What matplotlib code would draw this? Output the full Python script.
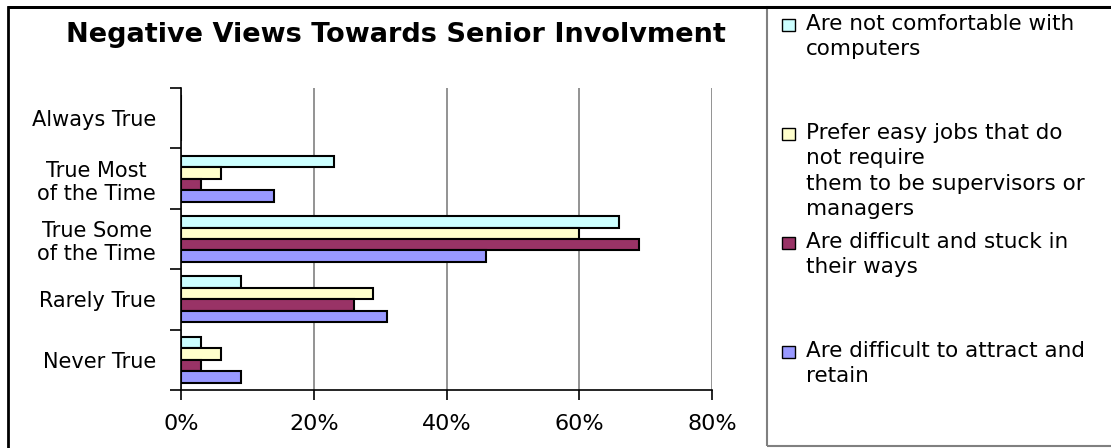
import numpy as np
import matplotlib
matplotlib.use("Agg")
import matplotlib.pyplot as plt
from matplotlib.patches import Rectangle

categories = ["Always True", "True Most\nof the Time", "True Some\nof the Time",
              "Rarely True", "Never True"]
series = [
    "Are not comfortable with\ncomputers",
    "Prefer easy jobs that do\nnot require\nthem to be supervisors or\nmanagers",
    "Are difficult and stuck in\ntheir ways",
    "Are difficult to attract and\nretain",
]
colors = ["#CCFFFF", "#FFFFCC", "#993366", "#9999FF"]
# percent per category (top to bottom), one list per series
not_comfortable = [0, 23, 66, 9, 3]
prefer_easy = [0, 6, 60, 29, 6]
stuck = [0, 3, 69, 26, 3]
hard_to_attract = [0, 14, 46, 31, 9]
values = [not_comfortable, prefer_easy, stuck, hard_to_attract]
xticks = [0, 20, 40, 60, 80]

plt.rcParams["font.family"] = "DejaVu Sans"
W, H = 1111, 448
fig = plt.figure(figsize=(W / 100, H / 100), dpi=100)

# outer frame and legend box
fig.patches.append(Rectangle((8 / W, -0.05), 1.2, (H - 7) / H + 0.05,
                             transform=fig.transFigure, fill=False,
                             edgecolor="black", linewidth=2))
fig.patches.append(Rectangle((767 / W, 1 - 446 / H), 1.0, (446 - 7) / H,
                             transform=fig.transFigure, fill=False,
                             edgecolor="#808080", linewidth=1.5))
fig.patches.append(Rectangle((8 / W, 1 - 7 / H), 1.2, 0.0,
                             transform=fig.transFigure, fill=False,
                             edgecolor="black", linewidth=2))

ax = fig.add_axes([181 / W, 1 - 390 / H, (712 - 181) / W, (390 - 88) / H])

pos = np.arange(len(categories))
h = 0.19
for i, (vals, col) in enumerate(zip(values, colors)):
    ax.barh(pos + (i - 1.5) * h, vals, height=h, color=col,
            edgecolor="black", linewidth=1.5, zorder=3)

ax.set_ylim(len(categories) - 0.5, -0.5)
ax.set_xlim(0, 80)
ax.set_xticks(xticks)
ax.set_xticklabels([f"{t}%" for t in xticks])
ax.set_yticks(pos)
ax.set_yticklabels(categories, multialignment="center")
ax.set_yticks(np.arange(len(categories) + 1) - 0.5, minor=True)
ax.tick_params(axis="y", which="major", length=0, pad=18, labelsize=15)
ax.tick_params(axis="y", which="minor", length=8, width=1.2, direction="out")
ax.tick_params(axis="x", length=7, width=1.2, direction="out", pad=10,
               labelsize=16)
ax.xaxis.grid(True, color="#808080", linewidth=1.2, zorder=0)
for s in ["top", "right"]:
    ax.spines[s].set_visible(False)
for s in ["left", "bottom"]:
    ax.spines[s].set_linewidth(1.2)

fig.text(396 / W, 1 - 35 / H, "Negative Views Towards Senior Involvment",
         ha="center", va="center", fontsize=19.5, fontweight="bold")

# legend
for i, (lab, col) in enumerate(zip(series, colors)):
    ytop = 25 + i * 109
    fig.patches.append(Rectangle((782 / W, 1 - (ytop + 6) / H), 13 / W, 12 / H,
                                 transform=fig.transFigure, facecolor=col,
                                 edgecolor="black", linewidth=1))
    fig.text(806 / W, 1 - (ytop - 11) / H, lab, ha="left", va="top",
             fontsize=15.5, linespacing=1.33)

fig.savefig("out.png", dpi=100)
